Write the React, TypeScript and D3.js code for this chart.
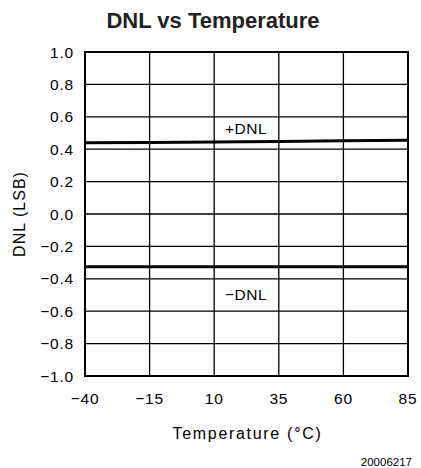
import React from "react";
import * as d3 from "d3";

const temps = [-40, -15, 10, 35, 60, 85];
const dnlPos = [0.44, 0.442, 0.445, 0.448, 0.452, 0.455];
const dnlNeg = [-0.325, -0.325, -0.325, -0.325, -0.325, -0.325];
const yTicks = [1.0, 0.8, 0.6, 0.4, 0.2, 0.0, -0.2, -0.4, -0.6, -0.8, -1.0];
const xTicks = [-40, -15, 10, 35, 60, 85];

const W = 421;
const H = 468;
const L = 85, R = 408, T = 52, B = 376;

export default function App() {
  const x = d3.scaleLinear().domain([-40, 85]).range([L, R]);
  const y = d3.scaleLinear().domain([-1, 1]).range([B, T]);
  const line = d3
    .line<number>()
    .x((_, i) => x(temps[i]))
    .y((d) => y(d));
  const font = "Liberation Sans, Arial, Helvetica, sans-serif";
  const fmt = (v: number) => (v < 0 ? "\u2212" : "") + Math.abs(v).toFixed(1);
  const fmtX = (v: number) => (v < 0 ? "\u2212" : "") + Math.abs(v);
  return (
    <svg
      width={W}
      height={H}
      style={{ position: "absolute", left: 0, top: 0, background: "#fff" }}
    >
      <rect x={0} y={0} width={W} height={H} fill="#fff" />
      <text
        x={213}
        y={28}
        textAnchor="middle"
        fontFamily={font}
        fontWeight="bold"
        fontSize={22}
        fill="#222"
      >
        DNL vs Temperature
      </text>
      {yTicks.map((t) => (
        <line
          key={"gy" + t}
          x1={L}
          x2={R}
          y1={y(t)}
          y2={y(t)}
          stroke="#000"
          strokeWidth={1.3}
        />
      ))}
      {xTicks.map((t) => (
        <line
          key={"gx" + t}
          x1={x(t)}
          x2={x(t)}
          y1={T}
          y2={B}
          stroke="#000"
          strokeWidth={1.3}
        />
      ))}
      <rect
        x={L}
        y={T}
        width={R - L}
        height={B - T}
        fill="none"
        stroke="#000"
        strokeWidth={2}
      />
      <path d={line(dnlPos) || ""} fill="none" stroke="#000" strokeWidth={3} />
      <path d={line(dnlNeg) || ""} fill="none" stroke="#000" strokeWidth={3} />
      <text x={225} y={134} fontFamily={font} fontSize={15.5} letterSpacing={0.5} fill="#000">
        +DNL
      </text>
      <text x={225} y={300} fontFamily={font} fontSize={15.5} letterSpacing={0.5} fill="#000">
        {"\u2212DNL"}
      </text>
      {yTicks.map((t) => (
        <text
          key={"ty" + t}
          x={74}
          y={y(t) + 5.5}
          textAnchor="end"
          fontFamily={font}
          fontSize={15.5}
          letterSpacing={0.8}
          fill="#000"
        >
          {fmt(t)}
        </text>
      ))}
      {xTicks.map((t) => (
        <text
          key={"tx" + t}
          x={x(t)}
          y={404}
          textAnchor="middle"
          fontFamily={font}
          fontSize={15.5}
          letterSpacing={0.8}
          fill="#000"
        >
          {fmtX(t)}
        </text>
      ))}
      <text
        x={247.5}
        y={439}
        textAnchor="middle"
        fontFamily={font}
        fontSize={16}
        letterSpacing={1.7}
        fill="#000"
      >
        Temperature (°C)
      </text>
      <text
        transform={`translate(25,214) rotate(-90)`}
        textAnchor="middle"
        fontFamily={font}
        fontSize={16}
        letterSpacing={1}
        fill="#000"
      >
        DNL (LSB)
      </text>
      <text
        x={412}
        y={466}
        textAnchor="end"
        fontFamily={font}
        fontSize={11.5}
        fill="#000"
      >
        20006217
      </text>
    </svg>
  );
}
